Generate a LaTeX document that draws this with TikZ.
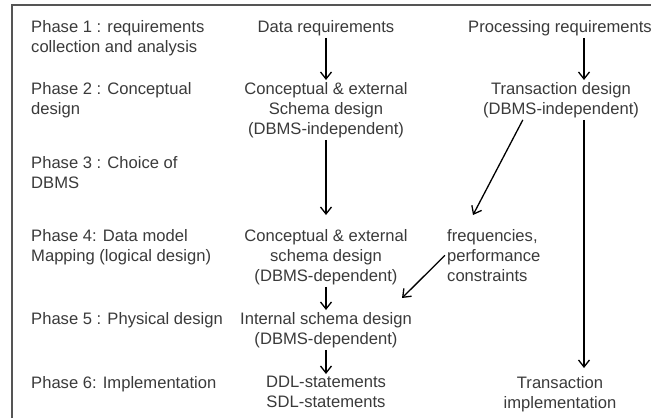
\documentclass[tikz,border=0pt]{standalone}
\usepackage{fontspec}
\setmainfont{Liberation Sans}
\usetikzlibrary{arrows.meta}
\definecolor{txtgray}{HTML}{3A3A3A}
\definecolor{framegray}{HTML}{555555}

\begin{document}
\begin{tikzpicture}[x=1pt,y=-1pt,
    txt/.style={inner sep=2pt,text=txtgray,font=\fontsize{16.6}{20}\selectfont},
    arr/.style={line width=1.3pt,-{Straight Barb[length=7pt,width=11pt]}}]
    \useasboundingbox(0,0)rectangle(651,418);
    \draw[framegray,line width=1.6pt](12,418)--(12,5)--(651,5);

    \node[txt,anchor=north west,align=left](ph1)at(29,18){Phase 1 : requirements\\collection and analysis};
    \node[txt,anchor=north west,align=left](ph2)at(29,80){Phase 2 : Conceptual\\design};
    \node[txt,anchor=north west,align=left](ph3)at(29,154){Phase 3 : Choice of\\DBMS};
    \node[txt,anchor=north west,align=left](ph4)at(29,227){Phase 4: Data model\\Mapping (logical design)};
    \node[txt,anchor=north west,align=left](ph5)at(29,310){Phase 5 : Physical design};
    \node[txt,anchor=north west,align=left](ph6)at(29,374){Phase 6: Implementation};

    \node[txt,anchor=north](datareq)at(326,18){Data requirements};
    \node[txt,anchor=north,align=center](concext)at(326,80){Conceptual \& external\\Schema design\\(DBMS-independent)};
    \node[txt,anchor=north,align=center](concdep)at(326,227){Conceptual \& external\\schema design\\(DBMS-dependent)};
    \node[txt,anchor=north,align=center](intern)at(326,310){Internal schema design\\(DBMS-dependent)};
    \node[txt,anchor=north,align=center](ddl)at(326,374){DDL-statements\\SDL-statements};

    \node[txt,anchor=north](procreq)at(560,18){Processing requirements};
    \node[txt,anchor=north,align=center](transdes)at(561,80){Transaction design\\(DBMS-independent)};
    \node[txt,anchor=north west,align=left](freq)at(445,227){frequencies,\\performance\\constraints};
    \node[txt,anchor=north,align=center](transimp)at(560,374){Transaction\\implementation};

    \coordinate(rcol)at(584,0);

    \draw[arr](datareq.south)--(concext.north);
    \draw[arr,shorten >=12pt](concext.south)--(concdep.north);
    \draw[arr](concdep.south)--(intern.north);
    \draw[arr](intern.south)--(ddl.north);

    \draw[arr](procreq.south-|rcol)--(transdes.north-|rcol);
    \draw[arr,shorten >=6pt](transdes.south-|rcol)--(transimp.north-|rcol);
    \draw[arr]([xshift=42pt]transdes.south west)--([xshift=28pt,yshift=12pt]freq.north west);
    \draw[arr](freq.west)--([xshift=-12pt,yshift=12pt]intern.north east);
\end{tikzpicture}
\end{document}
